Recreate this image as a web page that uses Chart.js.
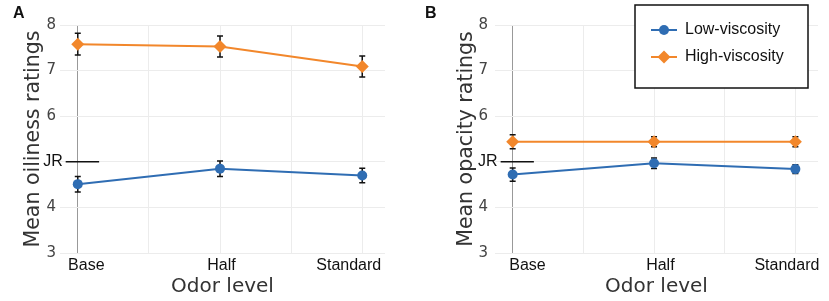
<!DOCTYPE html>
<html>
<head>
<meta charset="utf-8">
<script src="https://cdn.jsdelivr.net/npm/chart.js@4.4.0/dist/chart.umd.min.js"></script>
<style>
  html,body{margin:0;padding:0;background:#fff;}
  #wrap{position:relative;width:829px;height:301px;overflow:hidden;}
  canvas{position:absolute;top:0;}
</style>
</head>
<body>
<div id="wrap">
  <canvas id="chartA" width="415" height="301" style="left:0"></canvas>
  <canvas id="chartB" width="414" height="301" style="left:415px"></canvas>
</div>
<script>
const categories = ['Base','Half','Standard'];
const seriesNames = ['Low-viscosity','High-viscosity'];
const yTicks = [3,4,5,6,7,8];

// panel A: oiliness
const oilLow = [4.51, 4.85, 4.70];
const oilLowErr = [0.17, 0.17, 0.16];
const oilHigh = [7.58, 7.53, 7.09];
const oilHighErr = [0.24, 0.23, 0.23];

// panel B: opacity
const opaLow = [4.72, 4.97, 4.84];
const opaLowErr = [0.145, 0.115, 0.095];
const opaHigh = [5.44, 5.44, 5.44];
const opaHighErr = [0.155, 0.11, 0.11];

const jrValue = 5;
const jrSpan = [-0.085, 0.15];

const BLUE = '#2f6db3', ORANGE = '#f2872b';
const SANS = '"Liberation Sans", Arial, sans-serif';
const DEJAVU = '"DejaVu Sans", sans-serif';

const pts = arr => arr.map((v,i)=>({x:i, y:v}));

const errorBars = {
  id:'errorBars',
  beforeDatasetsDraw(chart){
    const {ctx, scales:{x,y}} = chart;
    ctx.save();
    ctx.strokeStyle = '#111'; ctx.lineWidth = 1.5;
    chart.data.datasets.forEach(ds=>{
      ds.data.forEach((p,i)=>{
        const px = x.getPixelForValue(p.x);
        const top = y.getPixelForValue(p.y + ds.err[i]);
        const bot = y.getPixelForValue(p.y - ds.err[i]);
        ctx.beginPath();
        ctx.moveTo(px, top); ctx.lineTo(px, bot);
        ctx.moveTo(px-3, top); ctx.lineTo(px+3, top);
        ctx.moveTo(px-3, bot); ctx.lineTo(px+3, bot);
        ctx.stroke();
      });
    });
    ctx.restore();
  }
};

const extras = {
  id:'extras',
  afterDraw(chart, args, opts){
    const {ctx, scales:{x,y}} = chart;
    ctx.save();
    // JR reference mark
    const jy = y.getPixelForValue(jrValue);
    const x0 = x.getPixelForValue(jrSpan[0]), x1 = x.getPixelForValue(jrSpan[1]);
    ctx.strokeStyle = '#111'; ctx.lineWidth = 1.5;
    ctx.beginPath(); ctx.moveTo(x0, jy); ctx.lineTo(x1, jy); ctx.stroke();
    ctx.fillStyle = '#111';
    ctx.font = '16px ' + SANS;
    ctx.textAlign = 'right'; ctx.textBaseline = 'middle';
    ctx.fillText('JR', x0 - 3, jy);
    // panel letter
    ctx.font = 'bold 16px ' + SANS;
    ctx.textAlign = 'left'; ctx.textBaseline = 'top';
    ctx.fillText(opts.letter, opts.letterX, 6);
    // legend box
    if (opts.legend) {
      const L = opts.legend;
      ctx.fillStyle = '#fff';
      ctx.fillRect(L.x, L.y, L.w, L.h);
      ctx.strokeStyle = '#111'; ctx.lineWidth = 1.5;
      ctx.strokeRect(L.x, L.y, L.w, L.h);
      chart.data.datasets.forEach((ds,i)=>{
        const ry = L.y + 25 + i*27;
        ctx.strokeStyle = ds.borderColor; ctx.lineWidth = 2;
        ctx.beginPath(); ctx.moveTo(L.x+16, ry); ctx.lineTo(L.x+42, ry); ctx.stroke();
        ctx.fillStyle = ds.borderColor;
        ctx.beginPath();
        if (ds.pointStyle === 'rectRot') {
          const r = 6.5;
          ctx.moveTo(L.x+29, ry-r); ctx.lineTo(L.x+29+r, ry); ctx.lineTo(L.x+29, ry+r); ctx.lineTo(L.x+29-r, ry);
          ctx.closePath();
        } else {
          ctx.arc(L.x+29, ry, 5, 0, Math.PI*2);
        }
        ctx.fill();
        ctx.fillStyle = '#111';
        ctx.font = '16px ' + SANS;
        ctx.textAlign = 'left'; ctx.textBaseline = 'middle';
        ctx.fillText(ds.label, L.x+50, ry);
      });
    }
    ctx.restore();
  }
};

function makeChart(id, low, lowErr, high, highErr, yTitle, cfg){
  return new Chart(document.getElementById(id), {
    type:'line',
    data:{datasets:[
      {label:seriesNames[0], data:pts(low), err:lowErr, borderColor:BLUE, backgroundColor:BLUE,
       borderWidth:2, pointStyle:'circle', pointRadius:5, pointBorderWidth:0},
      {label:seriesNames[1], data:pts(high), err:highErr, borderColor:ORANGE, backgroundColor:ORANGE,
       borderWidth:2, pointStyle:'rectRot', pointRadius:6.5, pointBorderWidth:0}
    ]},
    options:{
      responsive:false, animation:false,
      layout:{padding:{top:25, right:cfg.padRight, left:0, bottom:0}},
      plugins:{legend:{display:false}, tooltip:{enabled:false},
        extras:{letter:cfg.letter, letterX:cfg.letterX, legend:cfg.legend}},
      scales:{
        // grid-only axis
        x:{type:'linear', position:'bottom', min:-0.125, max:2.16,
          afterBuildTicks:s=>{ s.ticks = [0,0.5,1,1.5,2].map(v=>({value:v})); },
          afterFit:s=>{ s.height = 0; },
          border:{display:false},
          grid:{drawTicks:false, color:c=>c.tick && c.tick.value===0 ? '#999' : '#ececec', lineWidth:1},
          ticks:{display:false}
        },
        // label axis (category names sit slightly off the points in the original)
        xl:{type:'linear', position:'bottom', min:-0.125, max:2.16,
          afterBuildTicks:s=>{ s.ticks = cfg.labelPos.map(v=>({value:v})); },
          afterFit:s=>{ s.height = 48; },
          border:{display:false},
          grid:{display:false, drawTicks:false},
          ticks:{padding:3, color:'#111', maxRotation:0, autoSkip:false,
            font:{family:SANS, size:16},
            callback:(v,i)=>categories[i]},
          title:{display:true, text:'Odor level', color:'#333', padding:{top:0,bottom:2},
            font:{family:DEJAVU, size:20}}
        },
        y:{min:3, max:8,
          afterBuildTicks:s=>{ s.ticks = yTicks.map(v=>({value:v})); },
          afterFit:s=>{ s.width = cfg.yWidth; },
          border:{display:false},
          grid:{drawTicks:false, color:'#ececec', lineWidth:1},
          ticks:{padding:cfg.tickPad, color:'#444', font:{family:DEJAVU, size:15},
            callback:v=>v===jrValue ? '' : v},
          title:{display:true, text:yTitle, color:'#333', padding:{top:cfg.titlePad,bottom:0},
            font:{family:DEJAVU, size:20.5}}
        }
      }
    },
    plugins:[errorBars, extras]
  });
}

makeChart('chartA', oilLow, oilLowErr, oilHigh, oilHighErr, 'Mean oiliness ratings',
  {padRight:30, yWidth:60, tickPad:4, titlePad:21, letter:'A', letterX:13,
   labelPos:[0.06, 1.01, 1.905]});
makeChart('chartB', opaLow, opaLowErr, opaHigh, opaHighErr, 'Mean opacity ratings',
  {padRight:11, yWidth:80, tickPad:7, titlePad:39, letter:'B', letterX:10,
   labelPos:[0.105, 1.045, 1.94],
   legend:{x:220, y:5, w:173, h:83}});
</script>
</body>
</html>
